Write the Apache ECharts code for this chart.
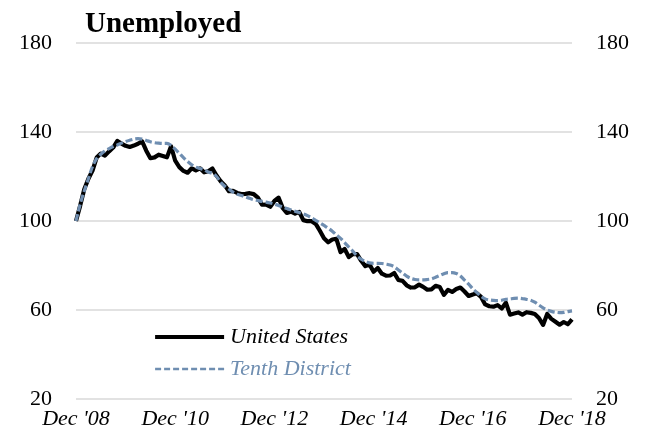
<!DOCTYPE html>
<html>
<head>
<meta charset="utf-8">
<script src="https://cdn.jsdelivr.net/npm/echarts@6/dist/echarts.min.js"></script>
<style>
html,body{margin:0;padding:0;background:#fff;}
#chart{width:646px;height:440px;}
</style>
</head>
<body>
<div id="chart"></div>
<script>
const title = "Unemployed";
const xTickLabels = ["Dec '08", "Dec '10", "Dec '12", "Dec '14", "Dec '16", "Dec '18"];
const monthNames = ["Jan","Feb","Mar","Apr","May","Jun","Jul","Aug","Sep","Oct","Nov","Dec"];
const yTicks = [20, 60, 100, 140, 180];

// Index, Dec 2008 = 100, monthly Dec 2008 .. Dec 2018
const unitedStates = [
  100.0,
  106.8, 114.3, 119.0, 122.7, 128.5, 130.3, 129.4, 131.3, 133.0, 136.0, 134.8, 133.8,
  133.3, 133.9, 134.7, 135.8, 131.6, 128.2, 128.6, 129.8, 129.2, 128.6, 133.6, 127.1,
  124.2, 122.5, 121.7, 123.7, 122.8, 123.7, 121.9, 122.4, 123.6, 120.4, 117.9, 116.0,
  113.4, 113.5, 112.6, 112.1, 112.2, 112.5, 112.1, 110.5, 107.3, 107.4, 106.4, 109.0,
  110.5, 105.9, 103.6, 104.2, 103.3, 104.1, 100.4, 99.9, 99.9, 98.7, 95.6, 92.2,
  90.4, 91.7, 92.0, 86.0, 87.4, 83.8, 85.1, 85.1, 82.1, 79.7, 80.5, 77.2,
  78.9, 76.3, 75.4, 75.5, 76.6, 73.5, 73.1, 71.1, 70.1, 70.2, 71.4, 70.4,
  69.1, 69.3, 70.9, 70.3, 66.8, 69.0, 68.1, 69.4, 70.1, 68.3, 66.3, 67.0,
  67.5, 65.9, 62.5, 61.7, 61.5, 62.2, 60.7, 63.3, 57.9, 58.4, 58.9, 57.9,
  59.0, 58.7, 58.2, 56.4, 53.3, 58.2, 56.0, 54.7, 53.4, 54.6, 53.6, 55.8
];
const tenthDistrict = [
  100.0,
  107.5, 113.5, 119.0, 124.5, 128.0, 130.0, 131.5, 132.5, 133.5, 134.2, 135.0, 135.7,
  136.3, 136.8, 137.0, 136.8, 136.2, 135.6, 135.2, 135.0, 134.9, 134.9, 134.0, 132.3,
  130.4, 128.5, 126.8, 125.3, 124.2, 123.6, 123.0, 122.0, 121.4, 120.0, 117.5, 115.6,
  114.3, 113.0, 112.0, 111.5, 110.8, 110.2, 109.6, 109.2, 108.8, 108.5, 108.1, 107.6,
  107.0, 106.3, 105.6, 105.0, 104.4, 103.8, 103.2, 102.4, 101.4, 100.3, 99.2, 98.0,
  96.8, 95.4, 93.8, 92.2, 90.3, 88.3, 86.4, 84.3, 82.8, 81.8, 81.2, 81.0,
  81.0, 80.9, 80.6, 80.2, 79.4, 78.0, 76.6, 75.2, 74.2, 73.7, 73.5, 73.5,
  73.7, 74.0, 74.7, 75.5, 76.3, 76.8, 76.8, 76.4, 75.3, 73.4, 71.6, 69.5,
  67.8, 66.2, 65.0, 64.5, 64.3, 64.2, 64.4, 64.8, 65.0, 65.2, 65.3, 65.1,
  64.8, 64.4, 63.5, 62.2, 61.0, 60.0, 59.4, 59.0, 58.8, 58.9, 59.3, 59.6
];

// month categories Dec 2008 .. Dec 2018
const categories = [];
for (let i = 0; i < unitedStates.length; i++) {
  const m = (11 + i) % 12;
  const y = 2008 + Math.floor((11 + i) / 12);
  categories.push(monthNames[m] + " '" + String(y % 100).padStart(2, '0'));
}

const serif = "'Liberation Serif', 'DejaVu Serif', serif";
const blue = '#6f8eb1';

const chart = echarts.init(document.getElementById('chart'), null, {renderer: 'canvas'});
const yAxisCommon = {
  type: 'value', min: 20, max: 180, interval: 40,
  axisLine: {show: false}, axisTick: {show: false},
  axisLabel: {fontFamily: serif, fontSize: 22, color: '#000', margin: 24}
};
chart.setOption({
  animation: false,
  title: {
    text: title, left: 80, top: 5,
    textStyle: {fontFamily: serif, fontSize: 29, fontWeight: 'bold', color: '#000'}
  },
  grid: {left: 76, right: 74, top: 43, bottom: 41, containLabel: false},
  legend: {
    orient: 'vertical', left: 148, top: 321,
    itemWidth: 69, itemHeight: 22, itemGap: 10,
    data: [
      {name: 'United States', textStyle: {color: '#000'}, itemStyle: {opacity: 0},
       lineStyle: {width: 4.2, color: '#000'}},
      {name: 'Tenth District', textStyle: {color: blue}, itemStyle: {opacity: 0},
       lineStyle: {width: 2.6, color: blue, type: [6, 3]}}
    ],
    textStyle: {fontFamily: serif, fontSize: 22, fontStyle: 'italic', padding: [0,0,0,1]}
  },
  xAxis: {
    type: 'category', data: categories, boundaryGap: false,
    axisLine: {show: false}, axisTick: {show: false},
    axisLabel: {
      fontFamily: serif, fontSize: 22, fontStyle: 'italic', color: '#000', margin: 9,
      interval: function (idx, val) { return xTickLabels.indexOf(val) >= 0; },
      showMaxLabel: true
    },
    splitLine: {show: false}
  },
  yAxis: [
    Object.assign({}, yAxisCommon, {
      position: 'left',
      splitLine: {show: true, lineStyle: {color: '#d9d9d9', width: 1.5}}
    }),
    Object.assign({}, yAxisCommon, {
      position: 'right',
      splitLine: {show: false}
    })
  ],
  series: [
    {
      name: 'United States', type: 'line', data: unitedStates, yAxisIndex: 0,
      symbol: 'none', smooth: false,
      lineStyle: {color: '#000', width: 4.2, join: 'round'},
      itemStyle: {color: '#000'}
    },
    {
      name: 'Tenth District', type: 'line', data: tenthDistrict, yAxisIndex: 0,
      symbol: 'none', smooth: 0.3,
      lineStyle: {color: blue, width: 3.2, type: [7, 3]},
      itemStyle: {color: blue}
    }
  ]
});
</script>
</body>
</html>
